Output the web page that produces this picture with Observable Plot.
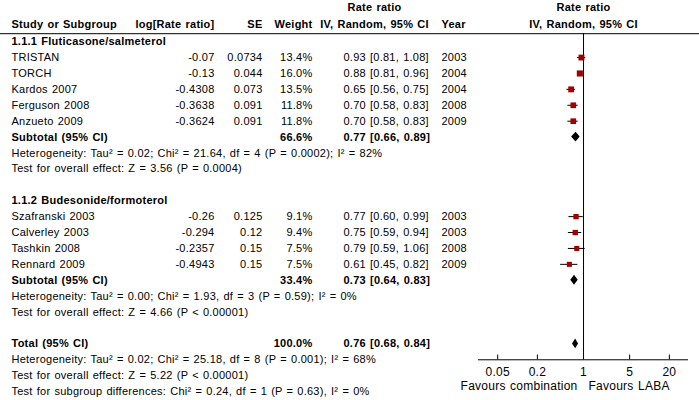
<!DOCTYPE html>
<html><head><meta charset="utf-8">
<script src="https://cdn.jsdelivr.net/npm/d3@7"></script>
<script src="https://cdn.jsdelivr.net/npm/@observablehq/plot@0.6"></script>
<style>html,body{margin:0;padding:0;background:#fff} svg{display:block}</style>
</head><body><div id="chart"></div>
<script>
// ---- data ----
const subgroupNames = ["1.1.1 Fluticasone/salmeterol", "1.1.2 Budesonide/formoterol"];
const studyNames = ["TRISTAN","TORCH","Kardos 2007","Ferguson 2008","Anzueto 2009","Szafranski 2003","Calverley 2003","Tashkin 2008","Rennard 2009"];
const studyGroup = [0,0,0,0,0,1,1,1,1];
const logRR = [-0.07,-0.13,-0.4308,-0.3638,-0.3624,-0.26,-0.294,-0.2357,-0.4943];
const seVals = [0.0734,0.044,0.073,0.091,0.091,0.125,0.12,0.15,0.15];
const weights = [13.4,16.0,13.5,11.8,11.8,9.1,9.4,7.5,7.5];
const rrVals = [0.93,0.88,0.65,0.70,0.70,0.77,0.75,0.79,0.61];
const loVals = [0.81,0.81,0.56,0.58,0.58,0.60,0.59,0.59,0.45];
const hiVals = [1.08,0.96,0.75,0.83,0.83,0.99,0.94,1.06,0.82];
const years = [2003,2004,2004,2008,2009,2003,2003,2008,2009];

const subtotalWeight = [66.6, 33.4];
const subtotalRR = [0.77, 0.73];
const subtotalLo = [0.66, 0.64];
const subtotalHi = [0.89, 0.83];
const subtotalHet = [
  "Heterogeneity: Tau\u00b2 = 0.02; Chi\u00b2 = 21.64, df = 4 (P = 0.0002); I\u00b2 = 82%",
  "Heterogeneity: Tau\u00b2 = 0.00; Chi\u00b2 = 1.93, df = 3 (P = 0.59); I\u00b2 = 0%"
];
const subtotalTest = [
  "Test for overall effect: Z = 3.56 (P = 0.0004)",
  "Test for overall effect: Z = 4.66 (P < 0.00001)"
];
const totalWeight = 100.0;
const totalRR = 0.76, totalLo = 0.68, totalHi = 0.84;
const totalHet = "Heterogeneity: Tau\u00b2 = 0.02; Chi\u00b2 = 25.18, df = 8 (P = 0.001); I\u00b2 = 68%";
const totalTest = "Test for overall effect: Z = 5.22 (P < 0.00001)";
const subgroupDiff = "Test for subgroup differences: Chi\u00b2 = 0.24, df = 1 (P = 0.63), I\u00b2 = 0%";

const tickValues = [0.05, 0.2, 1, 5, 20];
const tickLabels = ["0.05", "0.2", "1", "5", "20"];
const favourLeft = "Favours combination";
const favourRight = "Favours LABA";

// ---- layout (sequential rows) ----
const ci = (m, l, h) => `${m.toFixed(2)} [${l.toFixed(2)}, ${h.toFixed(2)}]`;
const cells = [];   // {row, col, text, bold}
const studyRows = [];
const summaries = [];
let row = -1;
subgroupNames.forEach((g, gi) => {
  cells.push({row, col: "study", text: g, bold: true}); row++;
  studyNames.forEach((s, i) => {
    if (studyGroup[i] !== gi) return;
    cells.push({row, col: "study", text: s});
    cells.push({row, col: "est", text: String(logRR[i])});
    cells.push({row, col: "se", text: String(seVals[i])});
    cells.push({row, col: "weight", text: weights[i].toFixed(1) + "%"});
    cells.push({row, col: "ci", text: ci(rrVals[i], loVals[i], hiVals[i])});
    cells.push({row, col: "year", text: String(years[i])});
    studyRows.push({row, rr: rrVals[i], lo: loVals[i], hi: hiVals[i], w: weights[i]});
    row++;
  });
  cells.push({row, col: "study", text: "Subtotal (95% CI)", bold: true});
  cells.push({row, col: "weight", text: subtotalWeight[gi].toFixed(1) + "%", bold: true});
  cells.push({row, col: "ci", text: ci(subtotalRR[gi], subtotalLo[gi], subtotalHi[gi]), bold: true});
  summaries.push({id: "g" + gi, row, rr: subtotalRR[gi], lo: subtotalLo[gi], hi: subtotalHi[gi]});
  row++;
  cells.push({row, col: "study", text: subtotalHet[gi]}); row++;
  cells.push({row, col: "study", text: subtotalTest[gi]}); row++;
  row++; // blank
});
cells.push({row, col: "study", text: "Total (95% CI)", bold: true});
cells.push({row, col: "weight", text: totalWeight.toFixed(1) + "%", bold: true});
cells.push({row, col: "ci", text: ci(totalRR, totalLo, totalHi), bold: true});
summaries.push({id: "tot", row, rr: totalRR, lo: totalLo, hi: totalHi});
const totalRow = row;
row++;
cells.push({row, col: "study", text: totalHet}); row++;
cells.push({row, col: "study", text: totalTest}); row++;
cells.push({row, col: "study", text: subgroupDiff}); row++;

// header cells
const H1 = -3.15, H2 = -2.05;
cells.push({row: H1, col: "ciC", text: "Rate ratio", bold: true});
cells.push({row: H1, col: "plotC", text: "Rate ratio", bold: true});
cells.push({row: H2, col: "study", text: "Study or Subgroup", bold: true});
cells.push({row: H2, col: "est", text: "log[Rate ratio]", bold: true});
cells.push({row: H2, col: "se", text: "SE", bold: true});
cells.push({row: H2, col: "weight", text: "Weight", bold: true});
cells.push({row: H2, col: "ciC", text: "IV, Random, 95% CI", bold: true});
cells.push({row: H2, col: "year", text: "Year", bold: true});
cells.push({row: H2, col: "plotC", text: "IV, Random, 95% CI", bold: true});

const ML = 478, MR = 11;
const columns = {
  study: {x: 11, anchor: "start"},
  est: {x: 214, anchor: "end"},
  se: {x: 262, anchor: "end"},
  weight: {x: 312, anchor: "end"},
  ci: {x: 343, anchor: "start"},
  ciC: {x: 374, anchor: "middle"},
  year: {x: 441, anchor: "start"},
  plotC: {x: 583, anchor: "middle"}
};

const diamondPts = summaries.flatMap(s => [
  {id: s.id, x: s.lo, y1: s.row, y2: s.row},
  {id: s.id, x: s.rr, y1: s.row - 0.31, y2: s.row + 0.31},
  {id: s.id, x: s.hi, y1: s.row, y2: s.row}
]);

const axisRow = totalRow + 1;
const textMarks = [];
for (const [key, c] of Object.entries(columns)) {
  for (const bold of [false, true]) {
    const data = cells.filter(d => d.col === key && !!d.bold === bold);
    if (!data.length) continue;
    textMarks.push(Plot.text(data, {
      y: "row", text: "text", frameAnchor: "left", dx: c.x - ML,
      textAnchor: c.anchor, fontWeight: bold ? "bold" : "normal", fill: "#000"
    }));
  }
}
const tickData = tickValues.map((v, i) => ({v, label: tickLabels[i]}));

const chart = Plot.plot({
  width: 699, height: 400,
  marginLeft: ML, marginRight: MR, marginTop: 33, marginBottom: 40,
  x: {type: "log", domain: [0.0256, 39], axis: null},
  y: {type: "linear", domain: [-1.5, axisRow], range: [33.2, 33.2 + (axisRow + 1.5) * 15.907], axis: null},
  style: {fontFamily: "'Liberation Sans', Arial, sans-serif", fontSize: "11px", color: "#000", background: "#fff", overflow: "visible", letterSpacing: "0.25px", wordSpacing: "0.8px"},
  marks: [
    Plot.ruleY([-1.5], {insetLeft: -ML, insetRight: -MR, stroke: "#000"}),
    Plot.ruleX([1], {y1: -1.5, y2: axisRow, stroke: "#000"}),
    Plot.ruleY([axisRow], {stroke: "#000"}),
    Plot.ruleX(tickValues, {y1: axisRow, y2: axisRow - 0.3, stroke: "#000"}),
    Plot.text(tickData, {x: "v", y: axisRow + 0.75, text: "label", fontSize: 12}),
    Plot.text([favourLeft], {x: 1, y: axisRow + 1.65, text: d => d, textAnchor: "end", dx: -6, fontSize: 12}),
    Plot.text([favourRight], {x: 1, y: axisRow + 1.65, text: d => d, textAnchor: "start", dx: 5, fontSize: 12}),
    Plot.ruleY(studyRows, {y: "row", x1: "lo", x2: "hi", stroke: "#000"}),
    Plot.dot(studyRows, {x: "rr", y: "row", symbol: "square", r: d => 1.45 * Math.sqrt(d.w) / Math.sqrt(Math.PI), fill: "#a00000", stroke: null}),
    Plot.areaY(diamondPts, {x: "x", y1: "y1", y2: "y2", z: "id", fill: "#000", curve: "linear"}),
    ...textMarks
  ]
});
document.getElementById("chart").appendChild(chart);
</script>
</body></html>
